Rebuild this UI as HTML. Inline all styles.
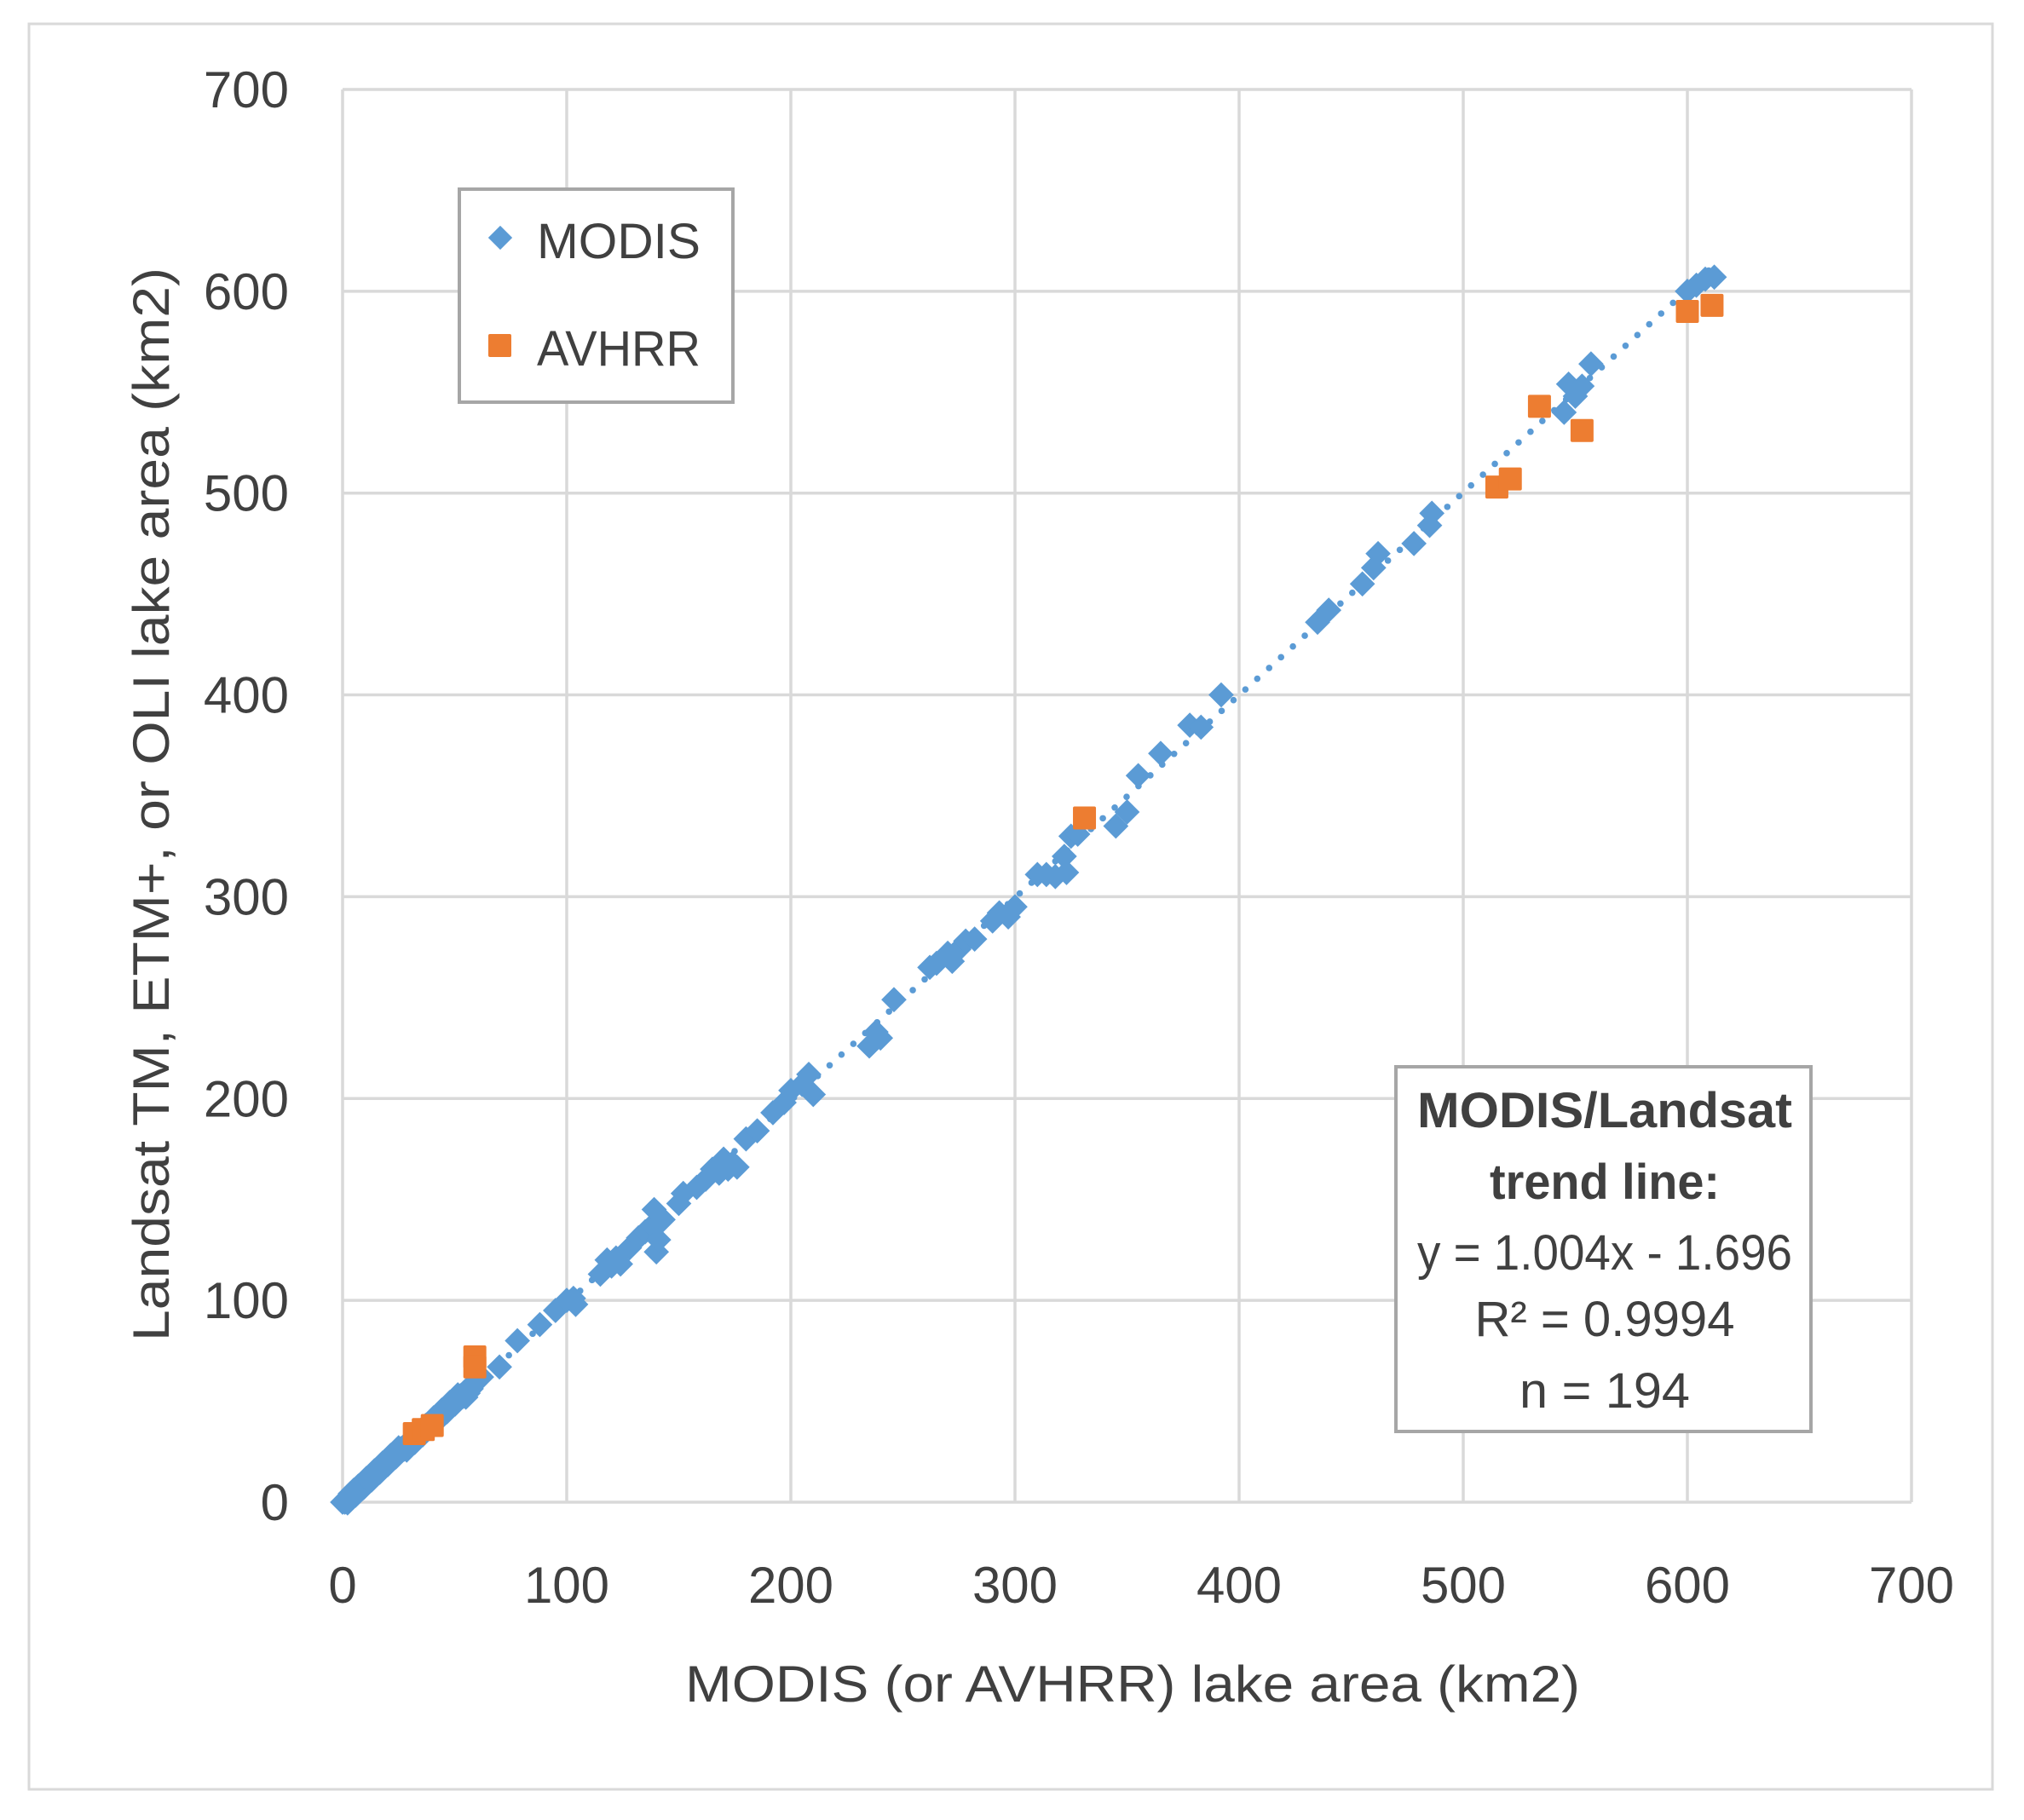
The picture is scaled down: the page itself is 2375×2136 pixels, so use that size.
<!DOCTYPE html>
<html><head><meta charset="utf-8">
<style>
html,body{margin:0;padding:0;background:#fff;}
svg text{font-family:"Liberation Sans",sans-serif;fill:#404040;}
</style></head>
<body>
<svg id="s" width="2375" height="2131" viewBox="0 0 2375 2131" xmlns="http://www.w3.org/2000/svg">
<rect x="0" y="0" width="2375" height="2131" fill="#fff"/>
<rect x="34" y="28" width="2304" height="2072" fill="#fff" stroke="#d9d9d9" stroke-width="3"/>
<g id="grid" stroke="#d9d9d9" stroke-width="3.5"></g>
<g id="trend" fill="#5b9bd5"></g>
<g id="modis" fill="#5b9bd5"></g>
<g id="avhrr" fill="#ed7d31"></g>
<g id="lbl" font-size="60"></g>
<text x="1329" y="1997" font-size="60" text-anchor="middle" textLength="1050" lengthAdjust="spacingAndGlyphs">MODIS (or AVHRR)  lake area (km2)</text>
<text transform="translate(198,944) rotate(-90)" font-size="60" text-anchor="middle" textLength="1260" lengthAdjust="spacingAndGlyphs">Landsat TM, ETM+,  or OLI lake area (km2)</text>
<rect x="539" y="222" width="321" height="250" fill="#fff" stroke="#a6a6a6" stroke-width="4"/>
<rect x="577" y="269" width="20" height="20" fill="#5b9bd5" transform="rotate(45 587 279)"/>
<rect x="573" y="392" width="27" height="27" fill="#ed7d31" rx="2"/>
<text x="630" y="303" font-size="58" textLength="192" lengthAdjust="spacingAndGlyphs">MODIS</text>
<text x="630" y="429" font-size="58" textLength="192" lengthAdjust="spacingAndGlyphs">AVHRR</text>
<rect x="1638" y="1252" width="487" height="428" fill="#fff" stroke="#a6a6a6" stroke-width="4"/>
<g font-size="58" text-anchor="middle">
<text x="1883" y="1323" font-weight="bold" textLength="440" lengthAdjust="spacingAndGlyphs">MODIS/Landsat</text>
<text x="1883" y="1407" font-weight="bold" textLength="270" lengthAdjust="spacingAndGlyphs">trend line:</text>
<text x="1883" y="1490" textLength="440" lengthAdjust="spacingAndGlyphs">y = 1.004x - 1.696</text>
<text x="1883" y="1568" textLength="305" lengthAdjust="spacingAndGlyphs">R² = 0.9994</text>
<text x="1883" y="1652" textLength="200" lengthAdjust="spacingAndGlyphs">n = 194</text>
</g>
</svg>
<script>
var NS="http://www.w3.org/2000/svg";
function el(p,t,a){var e=document.createElementNS(NS,t);for(var k in a)e.setAttribute(k,a[k]);document.getElementById(p).appendChild(e);return e;}
function X(v){return 402+2.63*v;} function Y(v){return 1763-2.3686*v;}
for(var i=0;i<=7;i++){
 el("grid","line",{x1:X(i*100),x2:X(i*100),y1:Y(0),y2:Y(700)});
 el("grid","line",{x1:X(0),x2:X(700),y1:Y(i*100),y2:Y(i*100)});
 var t=el("lbl","text",{x:339,y:Y(i*100)+21,"text-anchor":"end"});t.textContent=i*100;
 var u=el("lbl","text",{x:X(i*100),y:1881,"text-anchor":"middle"});u.textContent=i*100;
}
for(var x=0;x<=612;x+=5.3){el("trend","circle",{cx:X(x),cy:Y(1.004*x-1.696),r:3.8});}
var pts=[[0,0],[2,1],[3,3],[5,6],[4,2],[6,4],[8,6],[10,9],[12,11],[14,13],[16,15],[18,18],[20,21],[22,22],[24,24],[26,25],[28,27],[30,29],[33,32],[36,35],[40,40],[44,44],[47,46],[50,50],[53,52],[56,54],[62,62],[70,67],[78,80],[88,88],[95,95],[100,100],[103,101],[104,98],[115,113],[118,120],[120,117],[122,121],[124,118],[128,126],[132,131],[135,134],[138,137],[139,145],[140,124],[141,130],[143,140],[150,148],[152,153],[158,156],[162,160],[165,165],[168,163],[170,170],[172,165],[174,168],[176,166],[180,180],[185,184],[192,193],[197,198],[200,204],[205,207],[208,212],[210,202],[235,226],[238,233],[240,230],[246,249],[262,265],[265,267],[270,272],[272,268],[275,274],[278,278],[282,279],[290,288],[293,292],[297,290],[300,295],[310,311],[314,311],[318,310],[323,312],[322,320],[325,330],[328,331],[345,335],[350,342],[355,360],[365,371],[378,385],[383,384],[392,400],[435,436],[440,442],[455,455],[460,463],[462,470],[478,475],[485,484],[486,490],[545,540],[547,554],[550,548],[553,553],[557,564],[600,600],[604,603],[608,606],[612,607]];
for(var x=1;x<58;x+=1.2){pts.push([x,x-1+((x*7)%5-2)]);}
pts.forEach(function(p){var cx=X(p[0]),cy=Y(p[1]);el("modis","rect",{x:cx-10.5,y:cy-10.5,width:21,height:21,transform:"rotate(45 "+cx+" "+cy+")"});});
[[32,34],[36,36],[40,38],[59,72],[59,67],[331,339],[515,503],[521,507],[534,543],[553,531],[600,590],[611,593]].forEach(function(p){el("avhrr","rect",{x:X(p[0])-13.5,y:Y(p[1])-13.5,width:27,height:27,rx:2});});
</script>
</body></html>
